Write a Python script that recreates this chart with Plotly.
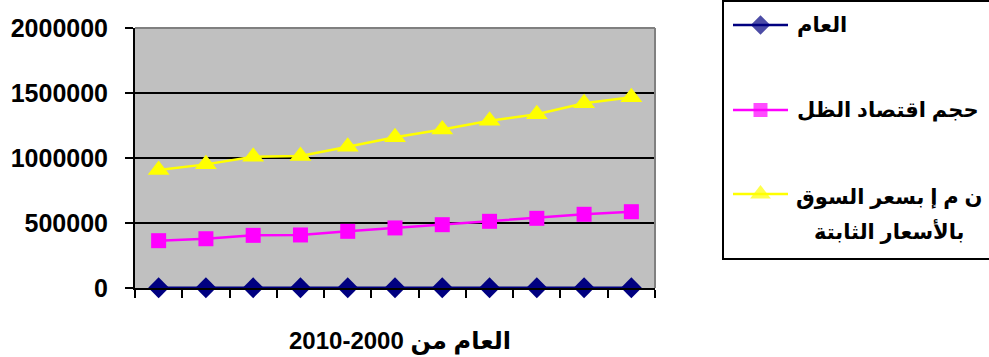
import plotly.graph_objects as go

# Years 2000-2010 and the three series
years = [2000, 2001, 2002, 2003, 2004, 2005, 2006, 2007, 2008, 2009, 2010]
year_series = years[:]  # "العام" plotted as its own series
shadow_economy = [364000, 379000, 405000, 408000, 436000, 462000, 487000, 513000, 536000, 567000, 587000]
gdp_constant = [907000, 951000, 1010000, 1015000, 1087000, 1159000, 1220000, 1287000, 1336000, 1421000, 1467000]

y_ticks = [0, 500000, 1000000, 1500000, 2000000]
series_names = ["العام", "حجم اقتصاد الظل", "ن م إ بسعر السوق", "بالأسعار الثابتة"]
x_title = "2010-2000 العام من"

W, H = 989, 357
FONT = "Arial, 'Liberation Sans', 'DejaVu Sans', sans-serif"


def px(x):
    return x / W


def py(y):
    return 1 - y / H


# plot-area pixel box
L, R, T, B = 135, 655, 28, 288

fig = go.Figure()

styles = [
    dict(color="#000080", symbol="diamond", size=16),
    dict(color="#FF00FF", symbol="square", size=15),
    dict(color="#FFFF00", symbol="triangle-up", size=19),
]
for vals, st in zip([year_series, shadow_economy, gdp_constant], styles):
    fig.add_trace(go.Scatter(
        x=years, y=vals, mode="lines+markers",
        line=dict(color=st["color"], width=2.5),
        marker=dict(color=st["color"], symbol=st["symbol"], size=st["size"],
                    line=dict(width=0)),
        showlegend=False, cliponaxis=False,
    ))

# legend keys drawn on a small helper axis (pixel-like units)
key_rows = [25, 110, 194]
for row, st in zip(key_rows, styles):
    fig.add_trace(go.Scatter(
        x=[0, 1, 2], y=[row] * 3, mode="lines+markers",
        line=dict(color=st["color"], width=2.5),
        marker=dict(color=st["color"], symbol=st["symbol"],
                    size=[0, st["size"] - 1, 0], line=dict(width=0)),
        xaxis="x2", yaxis="y2", showlegend=False, hoverinfo="skip",
    ))

tick_positions = [years[0] - 0.5 + i for i in range(len(years) + 1)]

fig.update_layout(
    width=W, height=H,
    margin=dict(l=0, r=0, t=0, b=0, autoexpand=False),
    paper_bgcolor="white",
    plot_bgcolor="rgba(0,0,0,0)",
    font=dict(family=FONT, color="black"),
    xaxis=dict(
        domain=[px(L), px(R)], range=[years[0] - 0.5, years[-1] + 0.5],
        tickmode="array", tickvals=tick_positions, showticklabels=False,
        ticks="outside", ticklen=8, tickwidth=2, tickcolor="black",
        showgrid=False, zeroline=False,
        showline=True, linecolor="black", linewidth=2,
    ),
    yaxis=dict(
        domain=[py(B), py(T)], range=[0, 2000000],
        tickmode="array", tickvals=y_ticks, ticktext=[str(v) for v in y_ticks],
        tickfont=dict(size=25, family=FONT, weight="bold"),
        ticks="outside", ticklen=8, tickwidth=2, tickcolor="black",
        ticklabelstandoff=12,
        showgrid=True, gridcolor="black", gridwidth=2,
        zeroline=False, showline=True, linecolor="black", linewidth=2,
    ),
    xaxis2=dict(domain=[px(733), px(788)], range=[0, 2], visible=False,
                anchor="y2"),
    yaxis2=dict(domain=[py(259), 1], range=[259, 0], visible=False,
                anchor="x2"),
)

# gray plot-area fill, only behind the main chart
fig.add_shape(type="rect", xref="paper", yref="paper", layer="below",
              x0=px(L), x1=px(R), y0=py(B), y1=py(T),
              line=dict(width=0), fillcolor="#C0C0C0")

# gray frame on the top and right of the plot area
fig.add_shape(type="line", xref="paper", yref="paper",
              x0=px(L), x1=px(R), y0=py(T), y1=py(T),
              line=dict(color="#808080", width=2))
fig.add_shape(type="line", xref="paper", yref="paper",
              x0=px(R), x1=px(R), y0=py(T), y1=py(B),
              line=dict(color="#808080", width=2))

# legend box (runs past the right edge)
fig.add_shape(type="rect", xref="paper", yref="paper",
              x0=px(723), x1=px(1010), y0=py(259), y1=py(1),
              line=dict(color="black", width=2), fillcolor="rgba(0,0,0,0)")

lf = dict(size=21, family=FONT, color="black", weight="bold")
fig.add_annotation(xref="paper", yref="paper", x=px(795), y=py(key_rows[0]),
                   xanchor="left", yanchor="middle", text=series_names[0],
                   showarrow=False, font=lf)
fig.add_annotation(xref="paper", yref="paper", x=px(795), y=py(key_rows[1]),
                   xanchor="left", yanchor="middle", text=series_names[1],
                   showarrow=False, font=lf)
fig.add_annotation(xref="paper", yref="paper", x=px(889), y=py(197),
                   xanchor="center", yanchor="middle", text=series_names[2],
                   showarrow=False, font=lf)
fig.add_annotation(xref="paper", yref="paper", x=px(889), y=py(231),
                   xanchor="center", yanchor="middle", text=series_names[3],
                   showarrow=False, font=lf)

# x-axis title
fig.add_annotation(xref="paper", yref="paper", x=px(400), y=py(341),
                   xanchor="center", yanchor="middle", text=x_title,
                   showarrow=False,
                   font=dict(size=24, family=FONT, color="black", weight="bold"))

fig.write_html("out.html")
